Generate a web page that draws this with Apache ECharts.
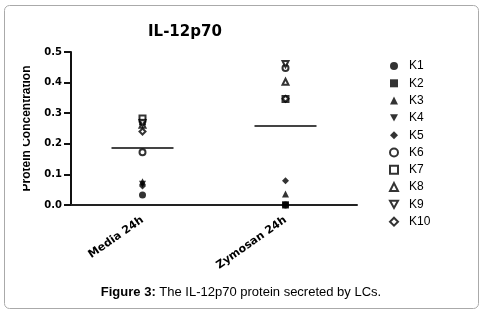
<!DOCTYPE html>
<html>
<head>
<meta charset="utf-8">
<script src="https://cdn.jsdelivr.net/npm/echarts@6/dist/echarts.min.js"></script>
<style>html,body{margin:0;padding:0;background:#fff}#c{width:486px;height:313px}</style>
</head>
<body>
<div id="c"></div>
<script>
const categories = ['Media 24h', 'Zymosan 24h'];
const seriesNames = ['K1', 'K2', 'K3', 'K4', 'K5', 'K6', 'K7', 'K8', 'K9', 'K10'];
const K1 = [0.033, 0.0];
const K2 = [0.272, 0.0];
const K3 = [0.076, 0.036];
const K4 = [0.068, 0.0];
const K5 = [0.062, 0.079];
const K6 = [0.172, 0.448];
const K7 = [0.283, 0.346];
const K8 = [0.262, 0.403];
const K9 = [0.268, 0.461];
const K10 = [0.240, 0.347];
const means = [0.186, 0.258];
const yTicks = [0, 0.1, 0.2, 0.3, 0.4, 0.5];

const values = [K1, K2, K3, K4, K5, K6, K7, K8, K9, K10];
const down = 'path://M0,0 L10,0 L5,9 Z';
const shapes = ['circle', 'rect', 'triangle', down, 'diamond', 'circle', 'rect', 'triangle', down, 'diamond'];
const filled = [true, true, true, true, true, false, false, false, false, false];

const chart = echarts.init(document.getElementById('c'));
const series = seriesNames.map((n, i) => ({
  name: n,
  type: 'scatter',
  symbol: shapes[i],
  symbolSize: filled[i] ? 7 : 6,
  itemStyle: filled[i] ? { color: '#000' } : { color: '#fff', borderColor: '#000', borderWidth: 2 },
  data: categories.map((c, j) => [c, values[i][j]]),
  z: 3
}));
series.push({
  type: 'custom',
  name: 'mean',
  data: categories.map((c, j) => [c, means[j]]),
  renderItem: function (params, api) {
    const p = api.coord([api.value(0), api.value(1)]);
    return {
      type: 'line',
      shape: { x1: p[0] - 31, y1: p[1], x2: p[0] + 31, y2: p[1] },
      style: { stroke: '#444', lineWidth: 2 }
    };
  },
  z: 2
});

chart.setOption({
  animation: false,
  title: {
    text: 'IL-12p70', left: 143, top: 20,
    textStyle: { fontFamily: 'DejaVu Sans', fontWeight: 'bold', fontSize: 15, color: '#000' }
  },
  legend: {
    data: seriesNames,
    orient: 'vertical',
    left: 384, top: 55,
    itemWidth: 8, itemHeight: 8, itemGap: 5.3,
    textStyle: { fontFamily: 'Liberation Sans', fontSize: 12, color: '#000', padding: [0, 0, 0, 6] }
  },
  grid: { left: 71, right: 129, top: 52, bottom: 108, containLabel: false },
  xAxis: {
    type: 'category',
    data: categories,
    boundaryGap: true,
    axisLine: { lineStyle: { color: '#222', width: 2 } },
    axisTick: { alignWithLabel: true, length: 6, lineStyle: { color: '#222', width: 2 } },
    axisLabel: { rotate: 35, margin: 14, fontFamily: 'DejaVu Sans', fontWeight: 'bold', fontSize: 11, color: '#000' },
    splitLine: { show: false }
  },
  yAxis: {
    type: 'value', min: 0, max: 0.5, interval: 0.1,
    name: 'Protein Concentration', nameLocation: 'middle', nameGap: 38,
    nameTextStyle: { fontFamily: 'Liberation Sans', fontWeight: 'bold', fontSize: 12, color: '#000' },
    axisLine: { show: true, lineStyle: { color: '#111', width: 2 } },
    axisTick: { show: true, length: 7, lineStyle: { color: '#111', width: 2 } },
    axisLabel: { margin: 9, fontFamily: 'DejaVu Sans', fontWeight: 'bold', fontSize: 10, color: '#000',
      formatter: v => v.toFixed(1) },
    splitLine: { show: false }
  },
  graphic: [
    { type: 'rect', shape: { x: 5, y: 50, width: 18, height: 160 }, style: { fill: '#fff' }, z: 100 },
    { type: 'rect', shape: { x: 4.5, y: 5.5, width: 474, height: 303, r: 5 }, style: { fill: 'none', stroke: '#aaa', lineWidth: 1 }, z: 101 },
    { type: 'text', x: 241, y: 292, z: 101,
      style: { text: '{b|Figure 3:} The IL-12p70 protein secreted by LCs.', align: 'center', verticalAlign: 'middle',
        font: '13px "Liberation Sans"', fill: '#000',
        rich: { b: { fontWeight: 'bold', fontFamily: 'Liberation Sans', fontSize: 13, fill: '#000' } } } }
  ],
  series: series
});
</script>
</body>
</html>
